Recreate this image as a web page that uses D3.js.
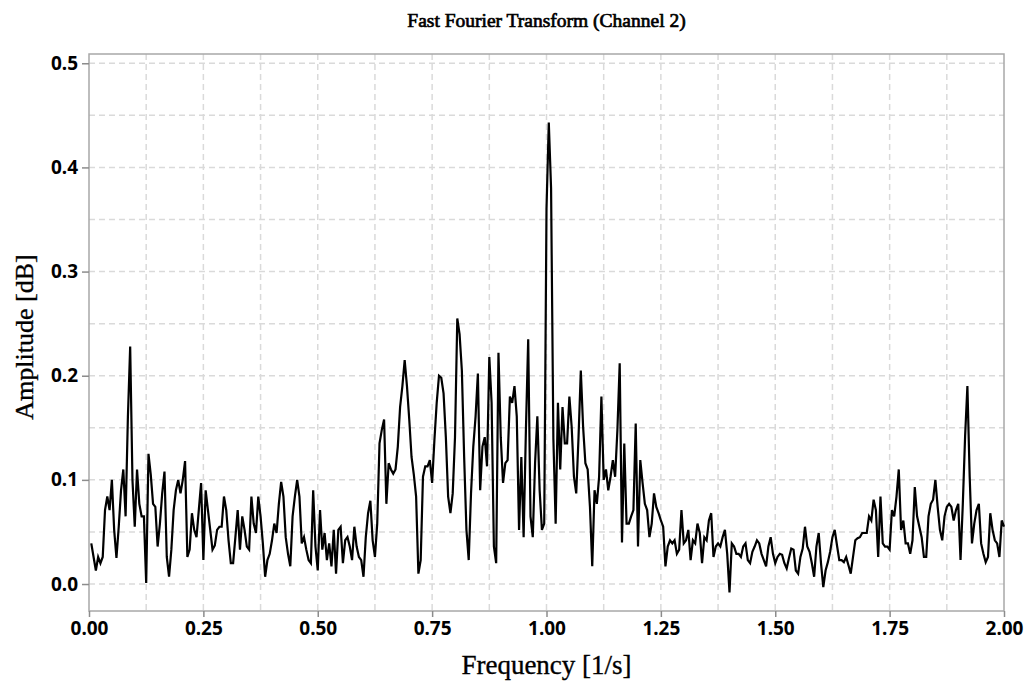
<!DOCTYPE html>
<html>
<head>
<meta charset="utf-8">
<script src="https://cdn.jsdelivr.net/npm/d3@7"></script>
<style>
  body { margin: 0; background: #fff; }
  svg { display: block; }
</style>
</head>
<body>
<div id="chart"></div>
<script>
// spectrum amplitudes, one value every 0.005 Hz starting at 0.005
var fStep = 0.005;
var amplitude = [
  0.039, 0.026, 0.013, 0.026, 0.020, 0.026, 0.071, 0.084, 0.071, 0.100,
  0.052, 0.025, 0.055, 0.090, 0.110, 0.065, 0.160, 0.228, 0.100, 0.055,
  0.110, 0.077, 0.065, 0.065, 0.001, 0.125, 0.105, 0.077, 0.074, 0.036,
  0.058, 0.087, 0.108, 0.026, 0.007, 0.033, 0.071, 0.090, 0.100, 0.087,
  0.100, 0.118, 0.026, 0.033, 0.068, 0.052, 0.045, 0.071, 0.097, 0.023,
  0.090, 0.071, 0.052, 0.033, 0.037, 0.052, 0.055, 0.055, 0.084, 0.071,
  0.042, 0.020, 0.020, 0.045, 0.071, 0.033, 0.065, 0.052, 0.036, 0.033,
  0.084, 0.058, 0.049, 0.084, 0.065, 0.039, 0.007, 0.023, 0.029, 0.042,
  0.058, 0.049, 0.077, 0.098, 0.084, 0.045, 0.029, 0.017, 0.065, 0.084,
  0.100, 0.084, 0.039, 0.045, 0.033, 0.023, 0.020, 0.090, 0.036, 0.013,
  0.071, 0.033, 0.049, 0.023, 0.039, 0.017, 0.052, 0.010, 0.052, 0.055,
  0.020, 0.042, 0.045, 0.036, 0.023, 0.055, 0.036, 0.026, 0.023, 0.007,
  0.045, 0.068, 0.080, 0.042, 0.026, 0.058, 0.135, 0.148, 0.158, 0.077,
  0.116, 0.110, 0.106, 0.110, 0.132, 0.170, 0.190, 0.215, 0.190, 0.158,
  0.122, 0.105, 0.084, 0.010, 0.023, 0.103, 0.113, 0.113, 0.119, 0.097,
  0.138, 0.174, 0.200, 0.198, 0.183, 0.141, 0.084, 0.068, 0.087, 0.141,
  0.255, 0.240, 0.205, 0.122, 0.052, 0.023, 0.087, 0.132, 0.161, 0.202,
  0.090, 0.132, 0.141, 0.113, 0.218, 0.174, 0.036, 0.020, 0.222, 0.141,
  0.097, 0.116, 0.119, 0.180, 0.174, 0.190, 0.161, 0.052, 0.122, 0.045,
  0.148, 0.235, 0.065, 0.045, 0.116, 0.161, 0.090, 0.052, 0.058, 0.360,
  0.443, 0.380, 0.140, 0.058, 0.174, 0.110, 0.170, 0.135, 0.135, 0.180,
  0.151, 0.103, 0.087, 0.141, 0.205, 0.151, 0.116, 0.110, 0.074, 0.017,
  0.090, 0.077, 0.103, 0.180, 0.100, 0.110, 0.090, 0.103, 0.119, 0.103,
  0.148, 0.212, 0.040, 0.135, 0.058, 0.058, 0.065, 0.071, 0.154, 0.036,
  0.119, 0.097, 0.077, 0.071, 0.045, 0.058, 0.087, 0.074, 0.068, 0.061,
  0.055, 0.017, 0.036, 0.042, 0.039, 0.042, 0.029, 0.033, 0.071, 0.039,
  0.042, 0.052, 0.023, 0.042, 0.039, 0.058, 0.049, 0.020, 0.045, 0.042,
  0.061, 0.068, 0.026, 0.036, 0.039, 0.036, 0.045, 0.052, 0.029, -0.008,
  0.039, 0.036, 0.029, 0.029, 0.026, 0.036, 0.039, 0.023, 0.020, 0.031,
  0.036, 0.042, 0.039, 0.029, 0.023, 0.017, 0.036, 0.045, 0.029, 0.020,
  0.026, 0.029, 0.028, 0.020, 0.015, 0.025, 0.034, 0.033, 0.013, 0.010,
  0.026, 0.034, 0.055, 0.036, 0.031, 0.020, 0.007, 0.036, 0.049, 0.020,
  -0.003, 0.013, 0.021, 0.031, 0.045, 0.052, 0.037, 0.023, 0.023, 0.021,
  0.026, 0.018, 0.010, 0.026, 0.042, 0.044, 0.045, 0.049, 0.049, 0.049,
  0.065, 0.061, 0.081, 0.071, 0.026, 0.084, 0.039, 0.036, 0.036, 0.033,
  0.071, 0.065, 0.084, 0.110, 0.052, 0.061, 0.039, 0.039, 0.029, 0.042,
  0.093, 0.065, 0.055, 0.045, 0.026, 0.026, 0.065, 0.077, 0.081, 0.100,
  0.074, 0.052, 0.042, 0.065, 0.074, 0.077, 0.074, 0.061, 0.071, 0.077,
  0.023, 0.077, 0.142, 0.190, 0.103, 0.039, 0.058, 0.071, 0.077, 0.039,
  0.029, 0.021, 0.026, 0.068, 0.052, 0.042, 0.039, 0.026, 0.061, 0.055
];
var xTicks = [0, 0.25, 0.5, 0.75, 1.0, 1.25, 1.5, 1.75, 2.0];
var yTicks = [0, 0.1, 0.2, 0.3, 0.4, 0.5];
var xGrid = d3.range(0, 2.0001, 0.125);
var yGrid = d3.range(0, 0.5001, 0.05);

var width = 1029,
    height = 688,
    margin = {top: 54, right: 25, bottom: 77, left: 89};

var svg = d3.select("#chart").append("svg")
    .attr("width", width)
    .attr("height", height)
    .style("background", "#fff");

var x = d3.scaleLinear().domain([0, 2]).range([margin.left, width - margin.right]);
var y = d3.scaleLinear().domain([-0.0259, 0.5089]).range([height - margin.bottom, margin.top]);

// dashed grid, major and minor
svg.append("g").selectAll("line")
    .data(xGrid.slice(1, -1))
    .enter().append("line")
    .attr("x1", function (d) {return x(d);})
    .attr("x2", function (d) {return x(d);})
    .attr("y1", margin.top)
    .attr("y2", height - margin.bottom)
    .attr("stroke", "#dadada")
    .attr("stroke-width", 1.5)
    .attr("stroke-dasharray", "6,4");

svg.append("g").selectAll("line")
    .data(yGrid)
    .enter().append("line")
    .attr("x1", margin.left)
    .attr("x2", width - margin.right)
    .attr("y1", function (d) {return y(d);})
    .attr("y2", function (d) {return y(d);})
    .attr("stroke", "#dadada")
    .attr("stroke-width", 1.5)
    .attr("stroke-dasharray", "6,4");

// frame
svg.append("rect")
    .attr("x", margin.left)
    .attr("y", margin.top)
    .attr("width", width - margin.left - margin.right)
    .attr("height", height - margin.top - margin.bottom)
    .attr("fill", "none")
    .attr("stroke", "#a8a8a8")
    .attr("stroke-width", 1.5);

// axes
var xAxis = svg.append("g")
    .attr("transform", "translate(0," + (height - margin.bottom) + ")")
    .call(d3.axisBottom(x).tickValues(xTicks).tickFormat(d3.format(".2f")).tickSize(6).tickPadding(5));

var yAxis = svg.append("g")
    .attr("transform", "translate(" + margin.left + ",0)")
    .call(d3.axisLeft(y).tickValues(yTicks).tickFormat(d3.format(".1f")).tickSize(7).tickPadding(4));

[xAxis, yAxis].forEach(function (g) {
    g.select(".domain").remove();
    g.selectAll(".tick line").attr("stroke", "#8c8c8c").attr("stroke-width", 1.5);
    g.selectAll(".tick text")
        .attr("fill", "#000")
        .style("font-family", "'Noto Sans', 'DejaVu Sans', sans-serif")
        .style("font-weight", "bold")
        .style("font-size", "19px");
});

// spectrum line
var line = d3.line()
    .x(function (d, i) {return x((i + 1) * fStep);})
    .y(function (d) {return y(d);});

svg.append("path")
    .datum(amplitude)
    .attr("d", line)
    .attr("fill", "none")
    .attr("stroke", "#000")
    .attr("stroke-width", 2.2)
    .attr("stroke-linejoin", "miter");

// titles (serif, slightly heavier than regular)
svg.append("text")
    .attr("x", (margin.left + width - margin.right) / 2)
    .attr("y", 27)
    .attr("text-anchor", "middle")
    .style("font-family", "'Liberation Serif', serif")
    .style("font-size", "19.5px")
    .attr("stroke", "#000")
    .attr("stroke-width", 0.7)
    .text("Fast Fourier Transform (Channel 2)");

svg.append("text")
    .attr("x", (margin.left + width - margin.right) / 2)
    .attr("y", 674)
    .attr("text-anchor", "middle")
    .style("font-family", "'Liberation Serif', serif")
    .style("font-size", "27px")
    .attr("stroke", "#000")
    .attr("stroke-width", 0.35)
    .text("Frequency [1/s]");

svg.append("text")
    .attr("transform", "translate(33,337) rotate(-90)")
    .attr("text-anchor", "middle")
    .style("font-family", "'Liberation Serif', serif")
    .style("font-size", "26px")
    .attr("stroke", "#000")
    .attr("stroke-width", 0.35)
    .text("Amplitude [dB]");
</script>
</body>
</html>
